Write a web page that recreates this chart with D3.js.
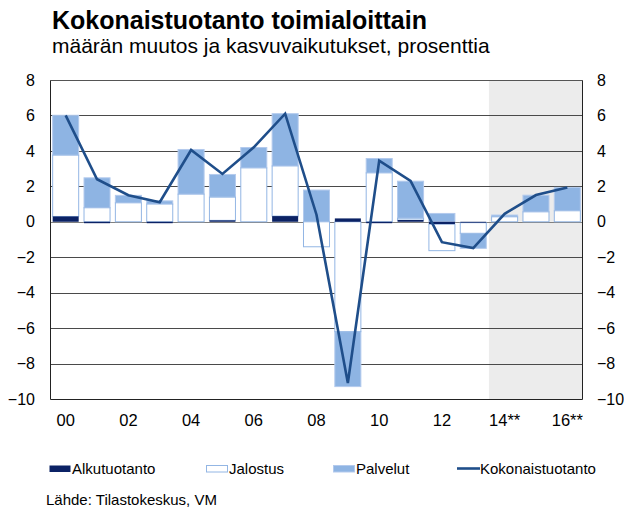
<!DOCTYPE html>
<html>
<head>
<meta charset="utf-8">
<script src="https://cdn.jsdelivr.net/npm/d3@7"></script>
<style>
  body { margin: 0; background: #fff; }
  svg text { font-family: Arial, "Liberation Sans", sans-serif; fill: #000; }
</style>
</head>
<body>
<svg id="chart" width="624" height="507"></svg>
<script>
/**
 * Kokonaistuotanto toimialoittain
 */

var years = ['00', '01', '02', '03', '04', '05', '06', '07', '08',
             '09', '10', '11', '12', '13', '14', '15', '16'];
var yearLabels = {'00': '00', '02': '02', '04': '04', '06': '06', '08': '08',
                  '10': '10', '12': '12', '14': '14**', '16': '16**'};
var forecastFrom = '14';

var alkutuotanto = [0.3, -0.08, 0, -0.08, 0, 0.08, 0, 0.32, 0,
                    0.19, -0.08, 0.1, -0.13, -0.05, 0, 0, 0];
var jalostus = [3.46, 0.79, 1.07, 1.0, 1.56, 1.31, 3.04, 2.83, -1.41,
                -6.2, 2.76, 0.1, -1.5, -0.6, 0.28, 0.56, 0.62];
var palvelut = [2.25, 1.69, 0.42, 0.18, 2.52, 1.28, 1.15, 2.95, 1.79,
                -3.1, 0.81, 2.09, 0.47, -0.85, 0.1, 0.94, 1.32];
var kokonaistuotanto = [6.0, 2.4, 1.5, 1.1, 4.05, 2.7, 4.2, 6.1, 0.4,
                        -9.1, 3.45, 2.3, -1.15, -1.48, 0.45, 1.51, 1.94];
var yTicks = [8, 6, 4, 2, 0, -2, -4, -6, -8, -10];

var svg = d3.select('#chart');

var x = d3.scaleBand()
    .domain(years)
    .range([50, 583])
    .paddingInner(0.17)
    .paddingOuter(0.085);
var y = d3.scaleLinear()
    .domain([-10, 8])
    .range([399, 80]);

// Forecast shading
var shadeX = x(forecastFrom) - x.step() * x.paddingInner() / 2;
svg.append('rect')
    .attr('x', shadeX)
    .attr('y', y(8))
    .attr('width', 583 - shadeX)
    .attr('height', y(-10) - y(8))
    .attr('fill', '#ececec');

// Gridlines
svg.append('g')
  .selectAll('line')
    .data(yTicks.filter(function(d) { return d !== 0 && d !== -10; }))
  .enter().append('line')
    .attr('x1', 50).attr('x2', 583)
    .attr('y1', function(d) { return Math.round(y(d)) + 0.5; })
    .attr('y2', function(d) { return Math.round(y(d)) + 0.5; })
    .attr('stroke', '#4a4a4a')
    .attr('stroke-width', 1.1);

// Zero line
svg.append('line')
    .attr('x1', 50).attr('x2', 583)
    .attr('y1', Math.round(y(0)) + 0.5).attr('y2', Math.round(y(0)) + 0.5)
    .attr('stroke', '#808080');

// Stacked bars
var rows = years.map(function(yr, i) {
  return {year: yr, alku: alkutuotanto[i], jal: jalostus[i], palv: palvelut[i]};
});
var series = d3.stack()
    .keys(['alku', 'jal', 'palv'])
    .offset(d3.stackOffsetDiverging)(rows);

var fills = {alku: '#0b2265', jal: '#ffffff', palv: '#8eb4e3'};
var strokes = {alku: 'none', jal: '#93b6e4', palv: '#b3caed'};
var drawOrder = ['palv', 'jal', 'alku'];

drawOrder.forEach(function(key) {
  var s = series.filter(function(d) { return d.key === key; })[0];
  svg.append('g')
    .selectAll('rect')
      .data(s.filter(function(d) { return d[1] !== d[0]; }))
    .enter().append('rect')
      .attr('x', function(d) { return x(d.data.year); })
      .attr('width', x.bandwidth())
      .attr('y', function(d) { return y(Math.max(d[0], d[1])); })
      .attr('height', function(d) { return Math.abs(y(d[0]) - y(d[1])); })
      .attr('fill', fills[key])
      .attr('stroke', strokes[key])
      .attr('stroke-width', 1);
});

// Total line
var line = d3.line()
    .x(function(d, i) { return x(years[i]) + x.bandwidth() / 2; })
    .y(function(d) { return y(d); });
svg.append('path')
    .datum(kokonaistuotanto)
    .attr('d', line)
    .attr('fill', 'none')
    .attr('stroke', '#1f4e8a')
    .attr('stroke-width', 2.6)
    .attr('stroke-linejoin', 'miter');

// Plot frame
svg.append('path')
    .attr('d', 'M50.5,' + y(8) + 'V' + (y(-10) + 0.5) + 'H582.5V' + y(8))
    .attr('fill', 'none')
    .attr('stroke', '#222');
svg.append('line')
    .attr('x1', 50).attr('x2', 583)
    .attr('y1', Math.round(y(8)) + 0.5).attr('y2', Math.round(y(8)) + 0.5)
    .attr('stroke', '#555');

// Y axes (left and right labels)
var leftAxis = d3.axisLeft(y).tickValues(yTicks).tickSize(0).tickPadding(15);
var rightAxis = d3.axisRight(y).tickValues(yTicks).tickSize(0).tickPadding(14);
var gl = svg.append('g').attr('transform', 'translate(50,0)').call(leftAxis);
var gr = svg.append('g').attr('transform', 'translate(583,0)').call(rightAxis);
[gl, gr].forEach(function(g) {
  g.select('.domain').remove();
  g.selectAll('text')
      .style('font-size', '16px')
      .attr('font-family', null);
});

// X axis labels
var xAxis = d3.axisBottom(x)
    .tickValues(Object.keys(yearLabels))
    .tickFormat(function(d) { return yearLabels[d]; })
    .tickSize(0)
    .tickPadding(15);
var gx = svg.append('g').attr('transform', 'translate(0,399)').call(xAxis);
gx.select('.domain').remove();
gx.selectAll('text')
    .style('font-size', '16.5px')
    .attr('font-family', null);

// Titles
svg.append('text')
    .attr('x', 52).attr('y', 28.5)
    .style('font-size', '25px')
    .style('font-weight', 'bold')
    .text('Kokonaistuotanto toimialoittain');
svg.append('text')
    .attr('x', 52).attr('y', 53)
    .style('font-size', '21px')
    .text('määrän muutos ja kasvuvaikutukset, prosenttia');

// Legend
var legend = [
  {name: 'Alkutuotanto', type: 'alku', x: 49},
  {name: 'Jalostus', type: 'jal', x: 206},
  {name: 'Palvelut', type: 'palv', x: 333},
  {name: 'Kokonaistuotanto', type: 'line', x: 457}
];
var lg = svg.append('g');
legend.forEach(function(d) {
  if (d.type === 'line') {
    lg.append('line')
        .attr('x1', d.x).attr('x2', d.x + 23)
        .attr('y1', 468.5).attr('y2', 468.5)
        .attr('stroke', '#1f4e8a')
        .attr('stroke-width', 2.6);
  } else {
    lg.append('rect')
        .attr('x', d.x + 0.5).attr('y', 465.5)
        .attr('width', 21).attr('height', 6.5)
        .attr('fill', fills[d.type])
        .attr('stroke', d.type === 'alku' ? 'none' : strokes[d.type]);
  }
  lg.append('text')
      .attr('x', d.x + 23).attr('y', 474)
      .style('font-size', '15px')
      .text(d.name);
});

svg.append('text')
    .attr('x', 46).attr('y', 505)
    .style('font-size', '15px')
    .text('Lähde: Tilastokeskus, VM');
</script>
</body>
</html>
